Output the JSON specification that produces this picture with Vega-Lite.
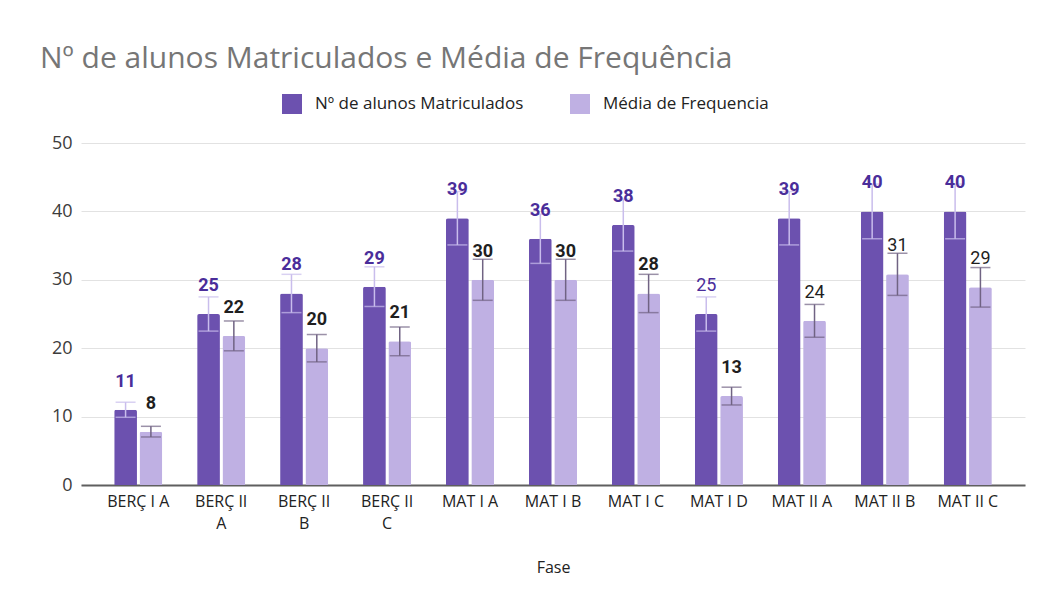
{
  "$schema": "https://vega.github.io/schema/vega-lite/v6.json",
  "width": 944,
  "height": 342,
  "autosize": {"type": "none"},
  "padding": {"left": 81, "top": 143, "right": 18, "bottom": 116},
  "background": "white",
  "title": {
    "text": "Nº de alunos Matriculados e Média de Frequência",
    "font": "Open Sans",
    "fontSize": 30,
    "fontWeight": "normal",
    "color": "#767676",
    "anchor": "start",
    "frame": "group",
    "dx": -41,
    "offset": 20
  },
  "data": {
    "values": [
      {"fase": "BERÇ I A", "serie": "Nº de alunos Matriculados", "valor": 11, "erro_min": 9.9, "erro_max": 12.1},
      {"fase": "BERÇ II A", "serie": "Nº de alunos Matriculados", "valor": 25, "erro_min": 22.5, "erro_max": 27.5},
      {"fase": "BERÇ II B", "serie": "Nº de alunos Matriculados", "valor": 28, "erro_min": 25.2, "erro_max": 30.8},
      {"fase": "BERÇ II C", "serie": "Nº de alunos Matriculados", "valor": 29, "erro_min": 26.1, "erro_max": 31.9},
      {"fase": "MAT I A", "serie": "Nº de alunos Matriculados", "valor": 39, "erro_min": 35.1, "erro_max": 42.9},
      {"fase": "MAT I B", "serie": "Nº de alunos Matriculados", "valor": 36, "erro_min": 32.4, "erro_max": 39.6},
      {"fase": "MAT I C", "serie": "Nº de alunos Matriculados", "valor": 38, "erro_min": 34.2, "erro_max": 41.8},
      {"fase": "MAT I D", "serie": "Nº de alunos Matriculados", "valor": 25, "erro_min": 22.5, "erro_max": 27.5},
      {"fase": "MAT II A", "serie": "Nº de alunos Matriculados", "valor": 39, "erro_min": 35.1, "erro_max": 42.9},
      {"fase": "MAT II B", "serie": "Nº de alunos Matriculados", "valor": 40, "erro_min": 36, "erro_max": 44},
      {"fase": "MAT II C", "serie": "Nº de alunos Matriculados", "valor": 40, "erro_min": 36, "erro_max": 44},
      {"fase": "BERÇ I A", "serie": "Média de Frequencia", "valor": 7.8, "erro_min": 7.02, "erro_max": 8.58},
      {"fase": "BERÇ II A", "serie": "Média de Frequencia", "valor": 21.8, "erro_min": 19.62, "erro_max": 23.98},
      {"fase": "BERÇ II B", "serie": "Média de Frequencia", "valor": 20, "erro_min": 18, "erro_max": 22},
      {"fase": "BERÇ II C", "serie": "Média de Frequencia", "valor": 21, "erro_min": 18.9, "erro_max": 23.1},
      {"fase": "MAT I A", "serie": "Média de Frequencia", "valor": 30, "erro_min": 27, "erro_max": 33},
      {"fase": "MAT I B", "serie": "Média de Frequencia", "valor": 30, "erro_min": 27, "erro_max": 33},
      {"fase": "MAT I C", "serie": "Média de Frequencia", "valor": 28, "erro_min": 25.2, "erro_max": 30.8},
      {"fase": "MAT I D", "serie": "Média de Frequencia", "valor": 13, "erro_min": 11.7, "erro_max": 14.3},
      {"fase": "MAT II A", "serie": "Média de Frequencia", "valor": 24, "erro_min": 21.6, "erro_max": 26.4},
      {"fase": "MAT II B", "serie": "Média de Frequencia", "valor": 30.8, "erro_min": 27.72, "erro_max": 33.88},
      {"fase": "MAT II C", "serie": "Média de Frequencia", "valor": 28.9, "erro_min": 26.01, "erro_max": 31.79}
    ]
  },
  "encoding": {
    "x": {
      "field": "fase",
      "type": "nominal",
      "sort": null,
      "title": "Fase",
      "scale": {"paddingInner": 0.42, "paddingOuter": 0.4},
      "axis": {
        "labelAngle": 0,
        "labelFont": "Open Sans",
        "labelFontSize": 16,
        "labelColor": "#222222",
        "labelPadding": 8,
        "labelLineHeight": 22,
        "labelBaseline": "top",
        "labelLimit": 200,
        "labelExpr": "length(datum.label) > 8 ? [slice(datum.label, 0, lastindexof(datum.label, ' ')), slice(datum.label, lastindexof(datum.label, ' ') + 1)] : datum.label",
        "ticks": false,
        "domainColor": "#5f5f5f",
        "domainWidth": 2,
        "titleFont": "Open Sans",
        "titleFontSize": 16,
        "titleFontWeight": "normal",
        "titleColor": "#222222",
        "titlePadding": 28
      }
    },
    "xOffset": {
      "field": "serie",
      "type": "nominal",
      "sort": ["Nº de alunos Matriculados", "Média de Frequencia"],
      "scale": {"paddingInner": 0.1}
    }
  },
  "layer": [
    {
      "mark": {"type": "bar", "cornerRadiusTopLeft": 2, "cornerRadiusTopRight": 2},
      "encoding": {
        "y": {
          "field": "valor",
          "type": "quantitative",
          "title": null,
          "scale": {"domain": [0, 50]},
          "axis": {
            "values": [0, 10, 20, 30, 40, 50],
            "labelFont": "Open Sans",
            "labelFontSize": 18,
            "labelColor": "#3c3c3c",
            "labelPadding": 9,
            "ticks": false,
            "domain": false,
            "gridColor": "#e2e2e2",
            "gridWidth": 1
          }
        },
        "color": {
          "field": "serie",
          "type": "nominal",
          "title": null,
          "sort": ["Nº de alunos Matriculados", "Média de Frequencia"],
          "scale": {
            "domain": ["Nº de alunos Matriculados", "Média de Frequencia"],
            "range": ["#6c51af", "#bfb0e3"]
          },
          "legend": {
            "orient": "none",
            "direction": "horizontal",
            "legendX": 201,
            "legendY": -49,
            "symbolType": "square",
            "symbolSize": 400,
            "symbolStrokeWidth": 0,
            "symbolOpacity": 1,
            "labelFont": "Open Sans",
            "labelFontSize": 17,
            "labelColor": "#222222",
            "labelOffset": 13,
            "labelLimit": 400,
            "columnPadding": 46
          }
        }
      }
    },
    {
      "mark": {"type": "rule", "strokeWidth": 1.5},
      "encoding": {
        "y": {"field": "erro_min", "type": "quantitative"},
        "y2": {"field": "erro_max"},
        "color": {
          "condition": {"test": "datum.serie == 'Média de Frequencia'", "value": "#706383"},
          "value": "#c9bdec"
        }
      }
    },
    {
      "mark": {"type": "tick", "size": 20, "thickness": 1.5, "orient": "horizontal"},
      "encoding": {
        "y": {"field": "erro_min", "type": "quantitative"},
        "color": {
          "condition": {"test": "datum.serie == 'Média de Frequencia'", "value": "#706383"},
          "value": "#c9bdec"
        }
      }
    },
    {
      "mark": {"type": "tick", "size": 20, "thickness": 1.5, "orient": "horizontal"},
      "encoding": {
        "y": {"field": "erro_max", "type": "quantitative"},
        "color": {
          "condition": {"test": "datum.serie == 'Média de Frequencia'", "value": "#706383"},
          "value": "#c9bdec"
        }
      }
    },
    {
      "transform": [
        {"filter": "!((datum.fase == 'MAT I D' && datum.serie == 'Nº de alunos Matriculados') || (indexof(['MAT II A', 'MAT II B', 'MAT II C'], datum.fase) >= 0 && datum.serie == 'Média de Frequencia'))"}
      ],
      "mark": {"type": "text", "font": "Roboto", "fontSize": 18, "fontWeight": "bold", "baseline": "middle", "dy": -28},
      "encoding": {
        "y": {"field": "valor", "type": "quantitative"},
        "text": {"field": "valor", "type": "quantitative", "format": ".0f"},
        "color": {
          "condition": {"test": "datum.serie == 'Média de Frequencia'", "value": "#1f1f1f"},
          "value": "#4a2d9a"
        }
      }
    },
    {
      "transform": [
        {"filter": "(datum.fase == 'MAT I D' && datum.serie == 'Nº de alunos Matriculados') || (indexof(['MAT II A', 'MAT II B', 'MAT II C'], datum.fase) >= 0 && datum.serie == 'Média de Frequencia')"}
      ],
      "mark": {"type": "text", "font": "Roboto", "fontSize": 18, "fontWeight": "normal", "baseline": "middle", "dy": -28},
      "encoding": {
        "y": {"field": "valor", "type": "quantitative"},
        "text": {"field": "valor", "type": "quantitative", "format": ".0f"},
        "color": {
          "condition": {"test": "datum.serie == 'Média de Frequencia'", "value": "#1f1f1f"},
          "value": "#4a2d9a"
        }
      }
    }
  ],
  "config": {
    "font": "Open Sans",
    "view": {"stroke": null}
  }
}
